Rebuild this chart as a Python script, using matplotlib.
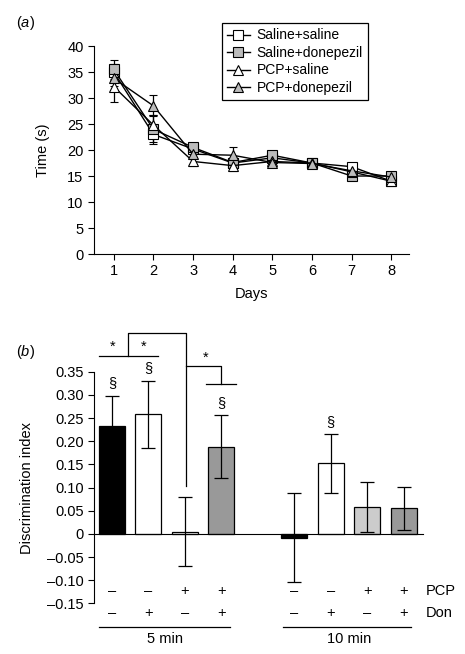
import matplotlib
matplotlib.use("Agg")
import matplotlib.pyplot as plt
import numpy as np

plt.rcParams["font.family"] = ["Liberation Sans", "DejaVu Sans"]
plt.rcParams["font.size"] = 10.5
plt.rcParams["mathtext.fontset"] = "custom"
plt.rcParams["mathtext.it"] = "Liberation Sans:italic"
plt.rcParams["mathtext.rm"] = "Liberation Sans"

# ---------------- data: panel (a) ----------------
days = [1, 2, 3, 4, 5, 6, 7, 8]
series_names = ["Saline+saline", "Saline+donepezil", "PCP+saline", "PCP+donepezil"]
ss_mean = [35.0, 23.0, 20.2, 17.5, 18.5, 17.5, 16.8, 14.0]
ss_err = [1.5, 1.5, 0.8, 0.8, 0.6, 0.6, 0.7, 0.6]
sd_mean = [35.5, 24.0, 20.5, 17.6, 19.0, 17.5, 15.0, 15.0]
sd_err = [1.8, 2.8, 0.8, 0.8, 0.6, 0.6, 0.8, 0.6]
ps_mean = [32.2, 24.8, 17.8, 17.0, 17.8, 17.5, 15.8, 14.0]
ps_err = [3.0, 2.0, 0.8, 1.0, 0.6, 0.6, 0.7, 0.6]
pd_mean = [33.8, 28.5, 19.2, 19.0, 17.6, 17.4, 16.0, 14.8]
pd_err = [1.5, 2.0, 0.8, 1.5, 0.6, 0.6, 0.8, 0.6]

# ---------------- data: panel (b) ----------------
bar_pos = [0, 1, 2, 3, 5, 6, 7, 8]
di_mean = [0.233, 0.258, 0.005, 0.188, -0.008, 0.152, 0.057, 0.055]
di_err = [0.065, 0.072, 0.074, 0.068, 0.096, 0.063, 0.054, 0.046]
bar_colors = ["black", "white", "white", "#999999", "black", "white", "#cccccc", "#999999"]
pcp_signs = ["–", "–", "+", "+", "–", "–", "+", "+"]
don_signs = ["–", "+", "–", "+", "–", "+", "–", "+"]
sect_marks = [0, 1, 3, 5]  # bars with a § above

fig = plt.figure(figsize=(4.65, 6.54), dpi=100)

# =========== panel (a) ===========
ax1 = fig.add_axes([0.202, 0.6116, 0.678, 0.318])
styles = [
    dict(marker="s", mfc="white"),
    dict(marker="s", mfc="#bbbbbb"),
    dict(marker="^", mfc="white"),
    dict(marker="^", mfc="#bbbbbb"),
]
data_a = [(ss_mean, ss_err), (sd_mean, sd_err), (ps_mean, ps_err), (pd_mean, pd_err)]
handles = []
for name, (m, e), st in zip(series_names, data_a, styles):
    h = ax1.errorbar(days, m, yerr=e, color="black", lw=1.0, elinewidth=0.9,
                     capsize=3, capthick=0.9, marker=st["marker"], mfc=st["mfc"],
                     mec="black", mew=0.8, ms=7, label=name)
    handles.append(h[0])

ax1.set_xlim(0.5, 8.45)
ax1.set_ylim(0, 40)
ax1.set_xticks(days)
ax1.set_yticks(range(0, 41, 5))
ax1.spines["top"].set_visible(False)
ax1.spines["right"].set_visible(False)
ax1.tick_params(direction="out", length=4, width=0.8)
ax1.set_xlabel("Days", labelpad=6)
ax1.set_ylabel("Time (s)", labelpad=12)
leg = ax1.legend(handles=handles, labels=series_names, loc="upper left",
                 bbox_to_anchor=(0.477, 0.965), bbox_transform=fig.transFigure,
                 borderaxespad=0, fancybox=False, edgecolor="black",
                 framealpha=1, handlelength=1.6, handletextpad=0.5, fontsize=10,
                 borderpad=0.4, labelspacing=0.25)
leg.get_frame().set_linewidth(0.9)
fig.text(0.035, 0.965, "($\\mathit{a}$)", ha="left", va="center", fontsize=10.5)

# =========== panel (b) ===========
ax2 = fig.add_axes([0.202, 0.0775, 0.707, 0.354])
ax2.bar(bar_pos, di_mean, width=0.72, color=bar_colors, edgecolor="black", linewidth=0.9)
ax2.errorbar(bar_pos, di_mean, yerr=di_err, fmt="none", ecolor="black",
             elinewidth=0.9, capsize=5, capthick=0.9)
ax2.set_xlim(-0.49, 8.52)
ax2.set_ylim(-0.15, 0.35)
ax2.set_yticks(np.arange(-0.15, 0.351, 0.05))
ax2.set_yticklabels(["–0.15", "–0.10", "–0.05", "0", "0.05", "0.10", "0.15",
                     "0.20", "0.25", "0.30", "0.35"])
ax2.set_xticks([])
ax2.spines["top"].set_visible(False)
ax2.spines["right"].set_visible(False)
ax2.spines["bottom"].set_position(("data", 0))
ax2.tick_params(axis="y", direction="out", length=4, width=0.8)
ax2.set_ylabel("Discrimination index", labelpad=9)

for i in sect_marks:
    ax2.text(bar_pos[i], di_mean[i] + di_err[i] + 0.012, "§", ha="center",
             va="bottom", fontsize=10.5)

for x, p, d in zip(bar_pos, pcp_signs, don_signs):
    ax2.text(x, -0.124, p, ha="center", va="center", fontsize=10.5)
    ax2.text(x, -0.170, d, ha="center", va="center", fontsize=10.5, clip_on=False)
ax2.text(8.6, -0.124, "PCP", ha="left", va="center", fontsize=10.5)
ax2.text(8.6, -0.170, "Don", ha="left", va="center", fontsize=10.5, clip_on=False)

kw = dict(color="black", lw=0.9, clip_on=False)
# group underlines
ax2.plot([-0.36, 3.25], [-0.201, -0.201], **kw)
ax2.plot([4.7, 8.2], [-0.201, -0.201], **kw)
ax2.text(1.45, -0.228, "5 min", ha="center", va="center", fontsize=10.5)
ax2.text(6.5, -0.228, "10 min", ha="center", va="center", fontsize=10.5)

# significance brackets
ax2.plot([-0.36, 1.26], [0.384, 0.384], **kw)
ax2.plot([0.44, 0.44, 2.02, 2.02], [0.384, 0.433, 0.433, 0.103], **kw)
ax2.plot([2.02, 2.99, 2.99], [0.363, 0.363, 0.323], **kw)
ax2.plot([2.57, 3.39], [0.323, 0.323], **kw)
for sx, sy in [(0.03, 0.405), (0.88, 0.405), (2.57, 0.381)]:
    ax2.text(sx, sy, "*", ha="center", va="center", fontsize=10.5)

fig.text(0.035, 0.462, "($\\mathit{b}$)", ha="left", va="center", fontsize=10.5)

fig.savefig("out.png", dpi=100)
